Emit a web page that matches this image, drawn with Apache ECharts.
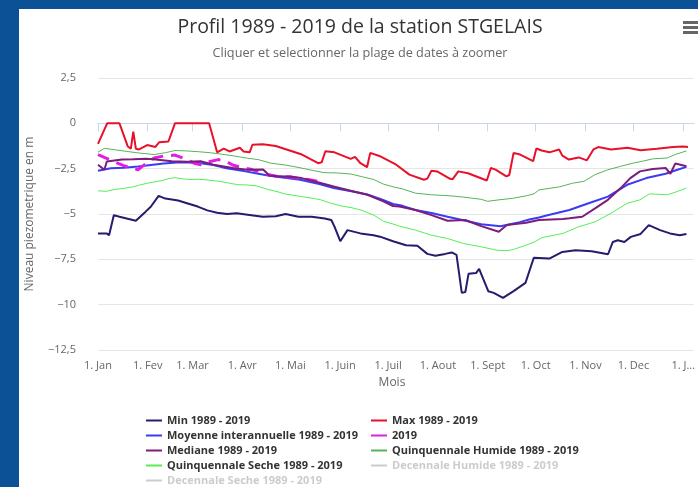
<!DOCTYPE html>
<html>
<head>
<meta charset="utf-8">
<script src="https://cdn.jsdelivr.net/npm/echarts@6/dist/echarts.min.js"></script>
<style>
html, body { margin: 0; padding: 0; background: #0c5195; }
#panel { position: absolute; left: 19px; top: 9px; width: 679px; height: 478px; background: #fff; }
#profil_chart { position: absolute; left: 0; top: 0; width: 698px; height: 487px; }
</style>
</head>
<body>
<div id="panel"></div>
<div id="profil_chart"></div>
<script>
// jour de l'annee -> niveau (m)
var monthStarts = [0, 31, 59, 90, 120, 151, 181, 212, 243, 273, 304, 334, 365];
var monthLabels = ["1. Jan", "1. Fev", "1. Mar", "1. Avr", "1. Mai", "1. Juin", "1. Juil", "1. Aout", "1. Sept", "1. Oct", "1. Nov", "1. Dec", "1. J…"];

var minData = [[0, -6.07], [5.3, -6.07], [6.9, -6.17], [9.9, -5.06], [13.4, -5.15], [23.6, -5.37], [29.7, -4.87], [32.9, -4.6], [37.8, -4.0], [42, -4.15], [50, -4.26], [56, -4.42], [62.2, -4.59], [68.2, -4.8], [74.3, -4.93], [80.4, -5.0], [86.5, -4.96], [94.5, -5.05], [102.8, -5.15], [110.9, -5.12], [117, -5.0], [125, -5.15], [133.3, -5.15], [141.4, -5.25], [145.5, -5.33], [147.5, -5.7], [151.1, -6.5], [155.6, -5.89], [163.7, -6.07], [171.8, -6.17], [175.9, -6.25], [184, -6.5], [192.1, -6.72], [199.2, -6.75], [205.4, -7.2], [210.4, -7.3], [216.5, -7.2], [220.6, -7.12], [223.6, -7.25], [226.9, -9.35], [229.1, -9.3], [231.1, -8.3], [235.8, -8.26], [237.7, -8.02], [243.4, -9.26], [246.8, -9.35], [252.6, -9.63], [259.2, -9.25], [266.6, -8.8], [271.8, -7.41], [281.5, -7.46], [289.6, -7.09], [297.8, -7.0], [307.9, -7.05], [318.1, -7.22], [321.1, -6.54], [324.2, -6.45], [328.3, -6.54], [332.3, -6.26], [338.4, -6.1], [343.5, -5.61], [350.6, -5.89], [356.7, -6.07], [362.8, -6.17], [367, -6.1]];

var maxData = [[0, -1.13], [5.7, 0], [13.4, 0], [18.5, -1.26], [20.5, -1.4], [22, -0.46], [23.6, -1.4], [25.6, -1.44], [30.7, -1.2], [35.8, -1.3], [38.2, -1.04], [43.9, -1.0], [48, 0], [69.3, 0], [74.3, -1.6], [78.4, -1.4], [82, -1.55], [88.5, -1.35], [90.8, -1.55], [94.6, -1.6], [96.3, -1.18], [102.8, -1.15], [110.9, -1.25], [127.2, -1.72], [137.3, -2.2], [139.5, -2.15], [141.8, -1.54], [147.5, -1.6], [157.6, -1.96], [160.3, -1.85], [163.7, -2.2], [167.8, -2.42], [169.8, -1.63], [175.5, -1.8], [186, -2.28], [194.2, -2.83], [203.3, -3.11], [205.4, -3.05], [208, -2.61], [211.5, -2.65], [219.6, -3.06], [221.2, -3.08], [224.7, -2.65], [230.8, -2.75], [242.5, -3.15], [245, -2.46], [248, -2.55], [254.7, -2.93], [256.5, -2.85], [259.2, -1.63], [263.3, -1.72], [271.4, -2.09], [273.4, -1.39], [276.7, -1.5], [281.5, -1.6], [287.6, -1.44], [289.6, -1.78], [293.7, -2.0], [299.8, -1.88], [304.9, -2.04], [309, -1.44], [312, -1.31], [320, -1.44], [330.3, -1.35], [338.4, -1.48], [348.6, -1.4], [358.7, -1.31], [365, -1.28], [368, -1.3]];

var moyenneData = [[0, -2.62], [8, -2.48], [16, -2.45], [25, -2.38], [33, -2.3], [41, -2.22], [49, -2.16], [57, -2.16], [64, -2.2], [72, -2.3], [80, -2.48], [92, -2.65], [100, -2.78], [106, -2.88], [114, -2.98], [126, -3.11], [138, -3.35], [147, -3.57], [158, -3.75], [168, -3.92], [177, -4.2], [184, -4.45], [190, -4.55], [198, -4.78], [208, -4.95], [218, -5.15], [228, -5.35], [239, -5.56], [251, -5.67], [263, -5.45], [269, -5.3], [275, -5.19], [281, -5.06], [294, -4.78], [306, -4.41], [318, -4.04], [330, -3.39], [342, -3.02], [354, -2.78], [360, -2.6], [367, -2.4]];

var annee2019Data = [[0, -1.72], [7, -2.0], [16, -2.33], [25, -2.56], [29, -2.28], [35, -1.91], [41, -1.8], [48, -1.75], [54, -1.95], [60, -2.2], [64, -2.28], [70, -2.1], [75, -2.0], [79, -2.05], [84, -2.3], [90, -2.45], [96, -2.55], [105, -2.8], [112, -2.93], [120, -2.95], [126, -3.05], [131, -3.1], [137, -3.2]];

var medianeData = [[0, -2.28], [4, -2.56], [5.5, -2.1], [15, -2.0], [22, -1.98], [30, -1.95], [36, -2.0], [46, -2.09], [56, -2.12], [64, -2.09], [72, -2.28], [84, -2.46], [93, -2.56], [103, -2.55], [107, -2.89], [120, -2.95], [127, -3.02], [137, -3.25], [147, -3.48], [157, -3.7], [168, -3.94], [178, -4.3], [184, -4.56], [188, -4.59], [198, -4.78], [208, -5.06], [218, -5.37], [229, -5.33], [239, -5.67], [250, -5.98], [255, -5.61], [267, -5.48], [275, -5.33], [290, -5.28], [294, -5.24], [302, -5.15], [310, -4.69], [318, -4.22], [326, -3.57], [332, -3.02], [338, -2.65], [346, -2.52], [354, -2.46], [357, -2.78], [360, -2.22], [367, -2.37]];

var quinqHumideData = [[0, -1.59], [4, -1.38], [10, -1.45], [18, -1.55], [25, -1.63], [35, -1.72], [42, -1.62], [48, -1.5], [55, -1.52], [62, -1.56], [70, -1.62], [77, -1.7], [85, -1.8], [93, -1.92], [100, -2.0], [108, -2.2], [117, -2.3], [126, -2.45], [134, -2.6], [141, -2.72], [150, -2.74], [158, -2.8], [165, -2.95], [172, -3.1], [178, -3.35], [184, -3.5], [190, -3.62], [198, -3.85], [208, -3.94], [220, -4.0], [228, -4.07], [239, -4.19], [243, -4.3], [250, -4.22], [259, -4.13], [268, -3.98], [272, -3.89], [275, -3.67], [282, -3.58], [288, -3.5], [296, -3.3], [303, -3.2], [310, -2.83], [318, -2.56], [326, -2.37], [334, -2.19], [340, -2.08], [346, -1.96], [355, -1.91], [360, -1.72], [367, -1.52]];

var quinqSecheData = [[0, -3.72], [5, -3.75], [10, -3.65], [15, -3.6], [22, -3.5], [26, -3.4], [31, -3.3], [36, -3.22], [40, -3.15], [44, -3.05], [48, -3.0], [52, -3.05], [57, -3.1], [63, -3.08], [68, -3.12], [76, -3.2], [82, -3.3], [87, -3.38], [93, -3.4], [99, -3.45], [106, -3.65], [111, -3.75], [117, -3.9], [127, -4.04], [135, -4.15], [139, -4.22], [145, -4.4], [152, -4.56], [158, -4.65], [164, -4.78], [172, -5.06], [178, -5.4], [184, -5.55], [188, -5.67], [198, -5.89], [208, -6.17], [218, -6.35], [228, -6.63], [239, -6.81], [249, -7.0], [255, -7.02], [259, -6.96], [266, -6.75], [272, -6.55], [277, -6.3], [290, -6.07], [300, -5.7], [310, -5.43], [320, -4.96], [330, -4.41], [338, -4.22], [344, -3.89], [355, -3.94], [360, -3.8], [367, -3.57]];

// series cachees dans la legende (non lisibles sur l'image)
var decHumideData = [];
var decSecheData = [];

var profil_chart = echarts.init(document.getElementById("profil_chart"));

function line(name, data, color, width, type) {
  return {
    name: name,
    type: "line",
    data: data,
    symbol: "none",
    showSymbol: false,
    animation: false,
    lineStyle: { color: color, width: width, type: type || "solid" },
    itemStyle: { color: color },
  };
}

var hidden = { "Decennale Humide 1989 - 2019": false, "Decennale Seche 1989 - 2019": false };

function legendCol(left, names) {
  return {
    orient: "vertical",
    left: left,
    top: 414,
    height: 100,
    padding: 0,
    itemGap: 2,
    itemWidth: 16,
    itemHeight: 2,
    icon: "rect",
    inactiveColor: "#cccccc",
    textStyle: { color: "#333333", fontSize: 11, fontWeight: "bold", lineHeight: 13 },
    data: names,
    selected: hidden,
  };
}

var option = {
  backgroundColor: "transparent",
  textStyle: { fontFamily: "Open Sans" },
  graphic: [
    {
      type: "text",
      x: 360,
      y: 27,
      style: {
        text: "Profil 1989 - 2019 de la station STGELAIS",
        fill: "#333333",
        font: "19.5px 'Open Sans'",
        align: "center",
        verticalAlign: "middle",
      },
    },
    {
      type: "text",
      x: 360,
      y: 53,
      style: {
        text: "Cliquer et selectionner la plage de dates à zoomer",
        fill: "#666666",
        font: "12.7px 'Open Sans'",
        align: "center",
        verticalAlign: "middle",
      },
    },
    { type: "rect", shape: { x: 683, y: 21, width: 16, height: 3 }, style: { fill: "#666666" } },
    { type: "rect", shape: { x: 683, y: 26, width: 16, height: 3 }, style: { fill: "#666666" } },
    { type: "rect", shape: { x: 683, y: 31, width: 16, height: 3 }, style: { fill: "#666666" } },
  ],
  grid: { left: 98, top: 78, width: 610, height: 272 },
  xAxis: {
    type: "value",
    min: 0,
    max: 371.7,
    name: "Mois",
    nameLocation: "middle",
    nameGap: 27,
    nameTextStyle: { color: "#666666", fontSize: 12, padding: [0, 8, 0, 0] },
    axisLine: { show: true, lineStyle: { color: "#ccd6eb" } },
    axisTick: { show: true, customValues: monthStarts, length: 8, lineStyle: { color: "#ccd6eb" } },
    axisLabel: {
      customValues: monthStarts,
      color: "#666666",
      fontSize: 11,
      margin: 10,
      formatter: function (v) {
        return monthLabels[monthStarts.indexOf(v)];
      },
    },
    splitLine: { show: false },
  },
  yAxis: {
    type: "value",
    min: -12.5,
    max: 2.5,
    interval: 2.5,
    name: "Niveau piezometrique en m",
    nameLocation: "middle",
    nameRotate: 90,
    nameGap: 62,
    nameTextStyle: { color: "#666666", fontSize: 12 },
    axisLine: { show: false },
    axisTick: { show: false },
    axisLabel: {
      color: "#666666",
      fontSize: 11,
      margin: 22,
      formatter: function (v) {
        return String(v).replace(".", ",").replace("-", "−");
      },
    },
    splitLine: { lineStyle: { color: "#e6e6e6" } },
  },
  legend: [
    legendCol(146, ["Min 1989 - 2019", "Moyenne interannuelle 1989 - 2019", "Mediane 1989 - 2019", "Quinquennale Seche 1989 - 2019", "Decennale Seche 1989 - 2019"]),
    legendCol(371, ["Max 1989 - 2019", "2019", "Quinquennale Humide 1989 - 2019", "Decennale Humide 1989 - 2019"]),
  ],
  series: [
    line("Min 1989 - 2019", minData, "#241c6c", 2),
    line("Max 1989 - 2019", maxData, "#e8102a", 2),
    line("Moyenne interannuelle 1989 - 2019", moyenneData, "#3b3bf5", 2),
    line("2019", annee2019Data, "#e31ee3", 3, [12, 8]),
    line("Mediane 1989 - 2019", medianeData, "#7b1d7b", 2),
    line("Quinquennale Humide 1989 - 2019", quinqHumideData, "#55b35a", 1),
    line("Quinquennale Seche 1989 - 2019", quinqSecheData, "#55ee55", 1),
    line("Decennale Humide 1989 - 2019", decHumideData, "#cccccc", 1),
    line("Decennale Seche 1989 - 2019", decSecheData, "#cccccc", 1),
  ],
};
profil_chart.setOption(option);
</script>
</body>
</html>
